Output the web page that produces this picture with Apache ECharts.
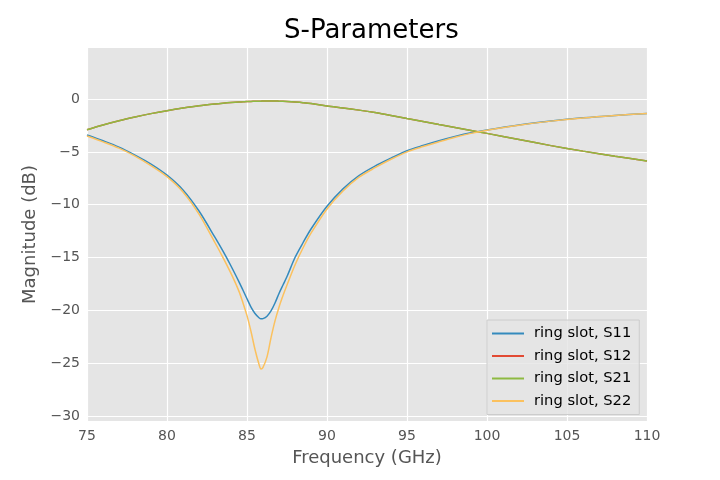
<!DOCTYPE html>
<html>
<head>
<meta charset="utf-8">
<script src="https://cdn.jsdelivr.net/npm/echarts@6/dist/echarts.min.js"></script>
<style>html,body{margin:0;padding:0;background:#fff}#c{width:720px;height:480px}</style>
</head>
<body>
<div id="c"></div>
<script>
const freq = [75,76,77,78,79,80,81,82,83,83.5,84,84.5,84.75,85,85.25,85.5,85.75,85.875,86,86.25,86.5,86.75,87,87.25,87.5,88,88.5,89,90,91,92,93,94,95,96,97,98,99,100,102,104,106,108,110];
const s11 = [-3.4,-3.95,-4.55,-5.3,-6.15,-7.2,-8.6,-10.6,-13.1,-14.4,-15.8,-17.3,-18.1,-18.9,-19.7,-20.3,-20.7,-20.8,-20.78,-20.55,-20.05,-19.3,-18.4,-17.6,-16.8,-15.0,-13.6,-12.3,-10.15,-8.5,-7.25,-6.35,-5.6,-4.9,-4.4,-3.95,-3.55,-3.2,-2.92,-2.45,-2.08,-1.78,-1.55,-1.36];
const s21 = [-2.9,-2.45,-2.05,-1.7,-1.38,-1.1,-0.85,-0.63,-0.46,-0.39,-0.33,-0.28,-0.26,-0.24,-0.23,-0.21,-0.2,-0.2,-0.19,-0.19,-0.19,-0.19,-0.2,-0.21,-0.23,-0.28,-0.34,-0.42,-0.66,-0.85,-1.05,-1.28,-1.55,-1.84,-2.12,-2.41,-2.69,-2.97,-3.25,-3.83,-4.41,-4.93,-5.41,-5.86];
const s12 = s21.slice();
const s22 = [-3.5,-4.05,-4.65,-5.4,-6.3,-7.35,-8.8,-10.9,-13.6,-15.0,-16.5,-18.2,-19.3,-20.5,-22.0,-23.7,-25.1,-25.55,-25.4,-24.4,-22.6,-21.0,-19.7,-18.6,-17.6,-15.7,-14.1,-12.7,-10.4,-8.7,-7.4,-6.5,-5.7,-5.0,-4.5,-4.05,-3.62,-3.25,-2.95,-2.47,-2.09,-1.79,-1.56,-1.37];
const names = ['ring slot, S11','ring slot, S12','ring slot, S21','ring slot, S22'];
const colors = ['#348ABD','#E24A33','#8EBA42','#FBC15E'];
const yTicks = [-30,-25,-20,-15,-10,-5,0];

const all = [s11, s12, s21, s22];
const FONT = 'DejaVu Sans';
const chart = echarts.init(document.getElementById('c'), null, {renderer:'canvas'});
chart.setOption({
  animation: false,
  title: {text: 'S-Parameters', left: 279, top: 13, textStyle: {fontFamily: FONT, fontSize: 26, fontWeight: 'normal', color: '#000'}},
  grid: {left: 87, right: 73, top: 48, bottom: 59, show: true, backgroundColor: '#E5E5E5', borderWidth: 0},
  xAxis: {
    type: 'value', min: 75, max: 110, interval: 5,
    name: 'Frequency (GHz)', nameLocation: 'middle', nameGap: 28,
    nameTextStyle: {fontFamily: FONT, fontSize: 18, color: '#555555'},
    axisLine: {show: false}, axisTick: {show: false},
    axisLabel: {fontFamily: FONT, fontSize: 14, color: '#555555', margin: 8},
    splitLine: {show: true, lineStyle: {color: '#ffffff', width: 1.2}}
  },
  yAxis: {
    type: 'value', min: -30.47, max: 4.83,
    name: 'Magnitude (dB)', nameLocation: 'middle', nameGap: 45,
    nameTextStyle: {fontFamily: FONT, fontSize: 18, color: '#555555'},
    axisLine: {show: false},
    axisTick: {show: false, customValues: yTicks},
    axisLabel: {fontFamily: FONT, fontSize: 14, color: '#555555', margin: 7, customValues: yTicks,
      formatter: v => String(v).replace('-', '\u2212')},
    splitLine: {show: true, lineStyle: {color: '#ffffff', width: 1.2}}
  },
  legend: {
    orient: 'vertical', left: 487, top: 320,
    data: names, icon: 'rect',
    itemWidth: 32, itemHeight: 2, itemGap: 7.5,
    padding: [6, 8, 6, 5],
    backgroundColor: 'rgba(229,229,229,0.8)', borderColor: '#CCCCCC', borderWidth: 1, borderRadius: 0,
    textStyle: {fontFamily: FONT, fontSize: 14.7, color: '#000', padding: [0,0,0,5]}
  },
  series: all.map((arr, i) => ({
    name: names[i], type: 'line', symbol: 'none', smooth: 0.3,
    data: freq.map((f, j) => [f, arr[j]]),
    lineStyle: {color: colors[i], width: 1.5},
    itemStyle: {color: colors[i]}
  }))
});
</script>
</body>
</html>
